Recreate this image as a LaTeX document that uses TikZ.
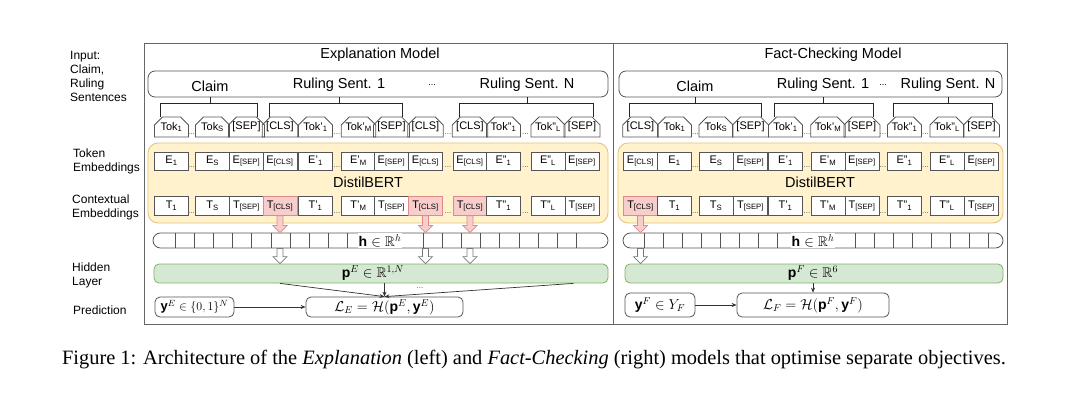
\documentclass[tikz,border=0pt]{standalone}
\usepackage{amsmath, amssymb}
\usepackage{fontspec}
\setmainfont{Liberation Sans}
\newfontfamily\capfont{Liberation Serif}
\usetikzlibrary{
  arrows.meta,
  positioning,
  calc,
  shapes.misc
}
\definecolor{edge}{HTML}{555555}
\definecolor{bertfill}{HTML}{FFF2CC}
\definecolor{bertdraw}{HTML}{E3C27A}
\definecolor{hidfill}{HTML}{D5E8D4}
\definecolor{hiddraw}{HTML}{82B366}
\definecolor{clsfill}{HTML}{F8CECC}
\definecolor{clsdraw}{HTML}{DD8A88}
\newcommand{\subs}[1]{\textsubscript{#1}}
% block arrow pointing down, from #2 to the tip #3
\newcommand{\fatarrow}[3]{%
  \path (#2) coordinate (fa-s) (#3) coordinate (fa-t);
  \draw[#1] ($(fa-s)+(-3,0)$) -- ($(fa-t)+(-3,-7)$) -- ($(fa-t)+(-7,-7)$) -- (fa-t)
    -- ($(fa-t)+(7,-7)$) -- ($(fa-t)+(3,-7)$) -- ($(fa-s)+(3,0)$) -- cycle;
}
\tikzset{
  frame/.style    = {draw=edge!90, line width=0.8pt, inner sep=0pt, anchor=north west},
  title/.style    = {font=\fontsize{14.5}{16}\selectfont, inner sep=0pt},
  inbox/.style    = {draw=edge, rounded corners=7pt, line width=0.8pt, inner sep=0pt},
  intext/.style   = {font=\fontsize{14.5}{16}\selectfont, inner sep=0pt},
  rowlab/.style   = {font=\fontsize{12}{14}\selectfont, align=left, inner sep=0pt, anchor=west},
  tok/.style      = {draw=edge, line width=0.8pt, chamfered rectangle,
                     chamfered rectangle corners={north west,north east},
                     chamfered rectangle xsep=4pt, chamfered rectangle ysep=4pt,
                     minimum width=34pt, minimum height=20pt, inner sep=0pt,
                     font=\fontsize{11}{12}\selectfont},
  emb/.style      = {draw=edge, line width=0.8pt, fill=white, minimum width=34pt,
                     minimum height=18pt, inner sep=0pt, font=\fontsize{11}{12}\selectfont},
  ctx/.style      = {emb, minimum height=19pt},
  cls/.style      = {ctx, fill=clsfill, draw=clsdraw},
  gapdots/.style  = {font=\fontsize{8}{8}\selectfont, inner sep=0pt, text=edge},
  bracket/.style  = {draw=black!85, line width=1pt},
  bert/.style     = {draw=bertdraw, fill=bertfill, rounded corners=10pt, line width=0.8pt, inner sep=0pt},
  hbar/.style     = {draw=edge, rounded corners=7.5pt, line width=0.8pt, inner sep=0pt, minimum height=15pt},
  cell/.style     = {draw=edge, line width=0.8pt},
  green/.style    = {draw=hiddraw, fill=hidfill, rounded corners=5pt, line width=0.8pt,
                     inner sep=0pt, minimum height=19pt},
  pred/.style     = {draw=edge, rounded corners=5pt, line width=0.8pt, inner sep=0pt},
  pinkarrow/.style= {fill=clsfill, draw=clsdraw, line width=0.7pt},
  holarrow/.style = {fill=white, draw=edge!80, line width=0.7pt},
  arrow/.style    = {-{Stealth[length=5pt,width=4pt]}, draw=black!80, line width=0.7pt},
  mathtxt/.style  = {font=\fontsize{14}{15}\selectfont, inner sep=1pt},
}
\begin{document}
\begin{tikzpicture}[x=1pt, y=-1pt]
\useasboundingbox (0,0) rectangle (1080,393);

% row labels
\node[rowlab] (labIn)  at (70,76)    {Input:\\Claim,\\Ruling\\Sentences};
\node[rowlab] (labTok) at (73,161.5) {Token\\Embeddings};
\node[rowlab] (labCtx) at (72,207)   {Contextual\\Embeddings};
\node[rowlab] (labHid) at (72,275)   {Hidden\\Layer};
\node[rowlab] (labPre) at (73,310)   {Prediction};

% the two models
\node[frame, minimum width=469pt, minimum height=281pt] (expM) at (144,43) {};
\node[frame, minimum width=394pt, minimum height=281pt] (fcM)  at (613,43) {};
\node[title] (expT) at (380,55) {Explanation Model};
\node[title] (fcT)  at (833,55) {Fact-Checking Model};

% inputs
\node[inbox, minimum width=460pt, minimum height=26pt] (inL) at (378,84) {};
\node[inbox, minimum width=383pt, minimum height=26pt] (inR) at (810.5,84) {};
\node[intext] (claimL) at (210,86) {Claim};
\node[intext] (sentAL) at (339,85) {Ruling Sent. 1};
\node[intext] (dotsL)  at (432,85) {\fontsize{9}{9}\selectfont...};
\node[intext] (sentNL) at (527,85) {Ruling Sent. N};
\node[intext] (claimR) at (695,86) {Claim};
\node[intext] (sentAR) at (823,85) {Ruling Sent. 1};
\node[intext] (dotsR)  at (883,85) {\fontsize{9}{9}\selectfont...};
\node[intext] (sentNR) at (948,85) {Ruling Sent. N};

% DistilBERT
\node[bert, minimum width=460pt, minimum height=80pt] (bertL) at (378,183) {};
\node[bert, minimum width=385pt, minimum height=80pt] (bertR) at (810.5,183) {};
\node[intext] (bertTL) at (368,182) {DistilBERT};
\node[intext] (bertTR) at (820,182) {DistilBERT};

% tokens, embeddings, contextual embeddings
\foreach \x/\labA/\labB/\labC/\sty [count=\i] in {
  171.5/Tok\subs{1}/E\subs{1}/T\subs{1}/ctx,
  212.5/Tok\subs{S}/E\subs{S}/T\subs{S}/ctx,
  246.5/[SEP]/E\subs{[SEP]}/T\subs{[SEP]}/ctx,
  280/[CLS]/E\subs{[CLS]}/T\subs{[CLS]}/cls,
  315.5/Tok'\subs{1}/E'\subs{1}/T'\subs{1}/ctx,
  358.5/Tok'\subs{M}/E'\subs{M}/T'\subs{M}/ctx,
  391.5/[SEP]/E\subs{[SEP]}/T\subs{[SEP]}/ctx,
  425.5/[CLS]/E\subs{[CLS]}/T\subs{[CLS]}/cls,
  470/[CLS]/E\subs{[CLS]}/T\subs{[CLS]}/cls,
  503.5/Tok"\subs{1}/E"\subs{1}/T"\subs{1}/ctx,
  548/Tok"\subs{L}/E"\subs{L}/T"\subs{L}/ctx,
  582/[SEP]/E\subs{[SEP]}/T\subs{[SEP]}/ctx}{
  \node[tok]   (tokL\i) at (\x,127) {\labA};
  \node[emb]   (embL\i) at (\x,161) {\labB};
  \node[\sty]  (ctxL\i) at (\x,206) {\labC};
}
\foreach \x/\labA/\labB/\labC/\sty [count=\i] in {
  640.5/[CLS]/E\subs{[CLS]}/T\subs{[CLS]}/cls,
  674.5/Tok\subs{1}/E\subs{1}/T\subs{1}/ctx,
  716/Tok\subs{S}/E\subs{S}/T\subs{S}/ctx,
  750.5/[SEP]/E\subs{[SEP]}/T\subs{[SEP]}/ctx,
  785.5/Tok'\subs{1}/E'\subs{1}/T'\subs{1}/ctx,
  828/Tok'\subs{M}/E'\subs{M}/T'\subs{M}/ctx,
  862/[SEP]/E\subs{[SEP]}/T\subs{[SEP]}/ctx,
  904.5/Tok"\subs{1}/E"\subs{1}/T"\subs{1}/ctx,
  947/Tok"\subs{L}/E"\subs{L}/T"\subs{L}/ctx,
  981.5/[SEP]/E\subs{[SEP]}/T\subs{[SEP]}/ctx}{
  \node[tok]   (tokR\i) at (\x,127) {\labA};
  \node[emb]   (embR\i) at (\x,161) {\labB};
  \node[\sty]  (ctxR\i) at (\x,206) {\labC};
}
\foreach \x [count=\i] in {191.5,337,448,525.5,695.5,807,883,925.5}
  \foreach \y [count=\j] in {134,167,213}
    \node[gapdots] (gap\i\j) at (\x,\y) {...};

% brackets from the sentences to their tokens
\foreach \s/\frm/\a/\b in {claimL/inL/tokL1/tokL3, sentAL/inL/tokL4/tokL7,
    sentNL/inL/tokL9/tokL12, claimR/inR/tokR1/tokR4,
    sentAR/inR/tokR5/tokR7, sentNR/inR/tokR8/tokR10}{
  \draw[bracket] (\s |- \frm.south) -- ++(0,6) coordinate (\s-knee);
  \draw[bracket] ($(\a.north)+(-11,0)$) |- (\s-knee) -| ($(\b.north)+(11,0)$);
}

% hidden vectors
\node[hbar, minimum width=455pt] (hL) at (380.5,240.5) {};
\node[hbar, minimum width=380pt] (hR) at (813,240.5) {};
\foreach \x in {175,194.2,...,348,423,442.2,...,595}
  \draw[cell] (\x,233) -- (\x,248);
\foreach \x in {644,663.1,...,778,855,874,...,988}
  \draw[cell] (\x,233) -- (\x,248);
\node[mathtxt, fill=white] (hTL) at (380,240.5) {$\mathbf{h}\in\mathbb{R}^h$};
\node[mathtxt, fill=white] (hTR) at (813,240.5) {$\mathbf{h}\in\mathbb{R}^h$};

% output layers
\node[green, minimum width=454pt] (pL) at (381,273.5) {};
\node[green, minimum width=378pt] (pR) at (814,273.5) {};
\node[mathtxt] (pTL) at (373,273) {$\mathbf{p}^E\in\mathbb{R}^{1,N}$};
\node[mathtxt] (pTR) at (813,273) {$\mathbf{p}^F\in\mathbb{R}^6$};
\node[gapdots] (pdots) at (420,288) {...};

% [CLS] representations into the hidden layer
\foreach \n in {ctxL4,ctxL8,ctxL9}{
  \fatarrow{pinkarrow}{\n.south}{\n |- hL.north}
  \fatarrow{holarrow}{\n |- hL.south}{\n |- pL.north}
}
\fatarrow{pinkarrow}{ctxR1.south}{ctxR1 |- hR.north}
\fatarrow{holarrow}{ctxR1 |- hR.south}{ctxR1 |- pR.north}

% prediction and loss
\node[pred, minimum width=79pt, minimum height=20pt] (yE) at (194.5,307) {};
\node[mathtxt, font=\fontsize{13}{14}\selectfont] (yET) at (194.5,307) {$\mathbf{y}^E\in\{0,1\}^N$};
\node[pred, minimum width=157pt, minimum height=20pt] (LE) at (384.5,307)
  {\fontsize{14}{15}\selectfont$\mathcal{L}_E=\mathcal{H}(\mathbf{p}^E,\mathbf{y}^E)$};
\node[pred, minimum width=70pt, minimum height=24pt] (yF) at (660,305)
  {\fontsize{14}{15}\selectfont$\mathbf{y}^F\in Y_F$};
\node[pred, minimum width=152pt, minimum height=24pt] (LF) at (813,305)
  {\fontsize{14}{15}\selectfont$\mathcal{L}_F=\mathcal{H}(\mathbf{p}^F,\mathbf{y}^F)$};

\draw[arrow] (yE.east) -- (LE.west);
\draw[arrow] (yF.east) -- (LF.west);
\draw[arrow] (ctxL4 |- pL.south) -- (LE.north);
\draw[arrow] (LE.north |- pL.south) -- (LE.north);
\draw[arrow] ($(pL.south east)+(-35,0)$) -- (LE.north);
\draw[arrow] (pR.south -| LF.north) -- (LF.north);

% caption
\node[font=\capfont\fontsize{20.4}{23}\selectfont, inner sep=0pt] (cap) at (534,360)
  {Figure 1: Architecture of the \textit{Explanation} (left) and \textit{Fact-Checking} (right) models that optimise separate objectives.};
\end{tikzpicture}
\end{document}
